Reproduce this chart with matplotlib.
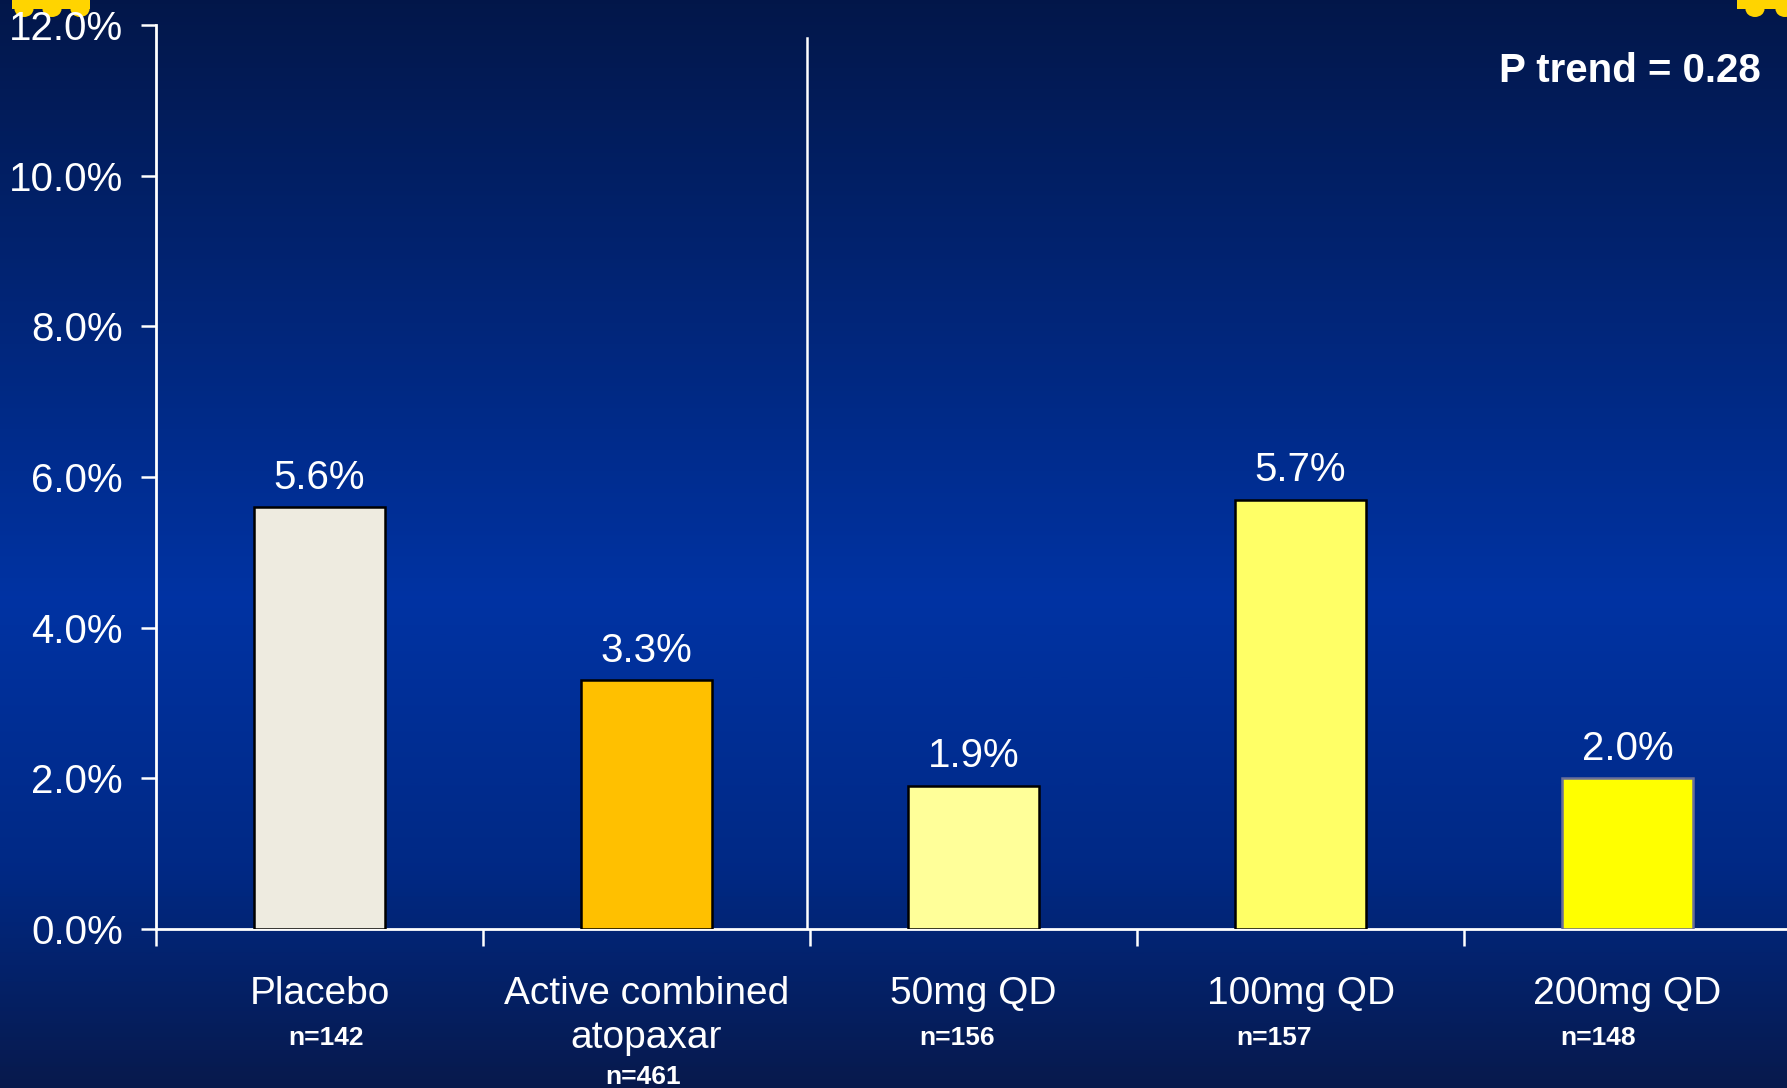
import numpy as np
import matplotlib
matplotlib.use('Agg')
import matplotlib.pyplot as plt
from matplotlib.colors import LinearSegmentedColormap
from matplotlib.patches import Ellipse, Rectangle

plt.rcParams['font.family'] = ['Liberation Sans', 'DejaVu Sans']

# event rates per arm
groups = ['Placebo', 'Active combined\natopaxar', '50mg QD', '100mg QD', '200mg QD']
n_labels = ['n=142', 'n=461', 'n=156', 'n=157', 'n=148']
rates = [5.6, 3.3, 1.9, 5.7, 2.0]
rate_labels = ['5.6%', '3.3%', '1.9%', '5.7%', '2.0%']
yticks = [0, 2, 4, 6, 8, 10, 12]
p_trend = 'P trend = 0.28'

bar_colors = ['#EEEBE0', '#FFC000', '#FFFF99', '#FFFF66', '#FFFF00']
edge_colors = ['black', 'black', 'black', 'black', '#6a6f9a']

fig = plt.figure(figsize=(17.87, 10.88), dpi=100)

# blue slide background
bg = fig.add_axes([0, 0, 1, 1], zorder=-10)
cmap = LinearSegmentedColormap.from_list('slide', [
    (0.0, (0.01, 0.09, 0.29)),
    (0.55, (0.0, 0.20, 0.64)),
    (0.80, (0.0, 0.16, 0.52)),
    (1.0, (0.03, 0.10, 0.30))])
grad = np.linspace(0, 1, 512).reshape(-1, 1)
bg.imshow(grad, aspect='auto', cmap=cmap, extent=[0, 1, 0, 1], origin='upper')
bg.set_xlim(0, 1)
bg.set_ylim(0, 1)
bg.axis('off')

# bits of the yellow logo cut off at the top corners
W, H = 1787.0, 1088.0
gold = '#FFD400'
for x0, x1, drips in [(12, 90, [24, 52, 80]), (1737, 1800, [1755, 1785])]:
    bg.add_patch(Rectangle((x0 / W, 1 - 9 / H), (x1 - x0) / W, 9 / H, color=gold, lw=0))
    for dx in drips:
        bg.add_patch(Ellipse((dx / W, 1 - 9 / H), 19 / W, 16 / H, color=gold, lw=0))

ax = fig.add_axes([0.0873, 0.1461, 0.915, 0.8309])
ax.set_facecolor('none')
x = np.arange(len(groups))
ax.bar(x, rates, width=0.4, color=bar_colors, edgecolor=edge_colors, linewidth=1.8, zorder=3)

for xi, r, lab in zip(x, rates, rate_labels):
    ax.text(xi, r + 0.14, lab, ha='center', va='bottom', color='white', fontsize=29)

ax.set_xlim(-0.5, 4.5)
ax.set_ylim(0, 12)
ax.set_yticks(yticks)
ax.set_yticklabels(['%.1f%%' % v for v in yticks], fontsize=29, color='white')
ax.set_xticks(np.arange(-0.5, 5.0, 1.0))
ax.set_xticklabels([])
ax.tick_params(axis='y', direction='out', length=11, width=1.8, color='white', pad=13)
ax.tick_params(axis='x', direction='out', length=12, width=1.8, color='white')

for s in ['top', 'right']:
    ax.spines[s].set_visible(False)
for s in ['left', 'bottom']:
    ax.spines[s].set_color('white')
    ax.spines[s].set_linewidth(2)

# divider between the combined arm and the individual doses
ax.plot([1.49, 1.49], [0, 11.83], color='white', lw=1.8, zorder=2)

# category names and sample sizes under the axis
for xi, g in zip(x, groups):
    ax.text(xi, -0.62, g, ha='center', va='top', color='white', fontsize=28,
            linespacing=1.28)
n_offsets = [0.02, -0.01, -0.05, -0.08, -0.09]
n_y = [-1.45, -1.97, -1.45, -1.45, -1.45]
for xi, nl, off, ny in zip(x, n_labels, n_offsets, n_y):
    ax.text(xi + off, ny, nl, ha='center', va='center', color='white', fontsize=19,
            fontweight='bold')

ax.text(0.9817, 0.949, p_trend, transform=ax.transAxes, ha='right', va='center',
        color='white', fontsize=29, fontweight='bold')

fig.savefig('out.png', dpi=100)
